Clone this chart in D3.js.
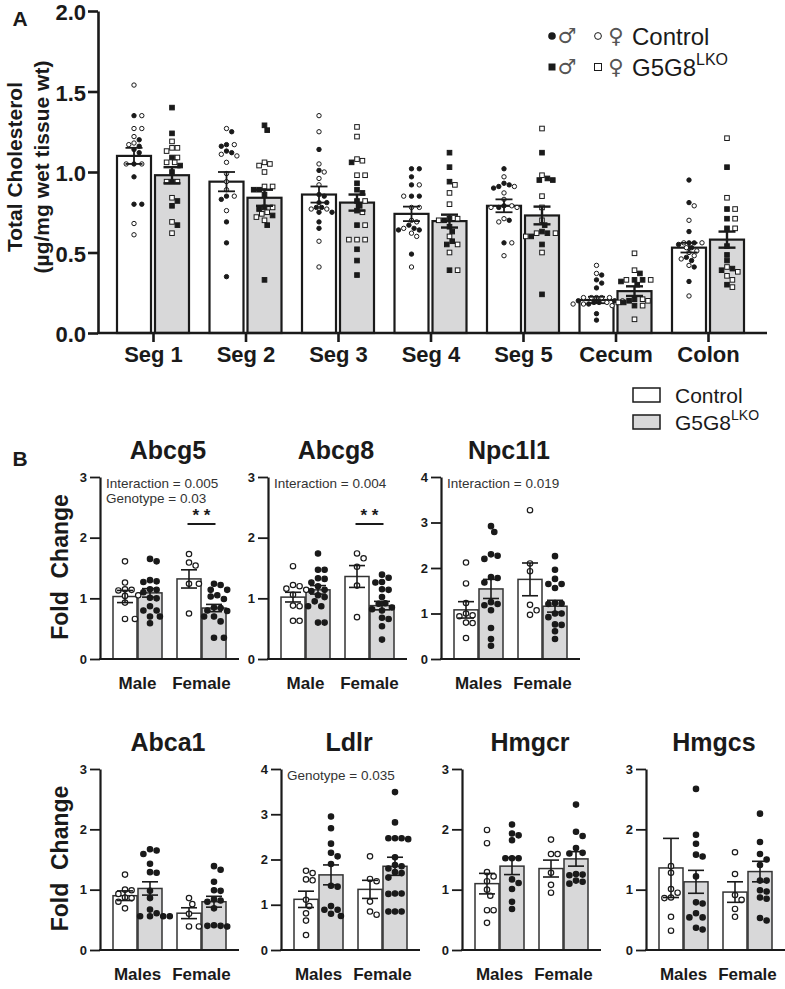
<!DOCTYPE html>
<html>
<head>
<meta charset="utf-8">
<script src="https://cdn.jsdelivr.net/npm/d3@7"></script>
<style>
  body { margin: 0; background: #fff; }
  svg { font-family: "Liberation Sans", Arial, sans-serif; }
</style>
</head>
<body>
<script>
// ---- panel A data ----
const segments = ["Seg 1", "Seg 2", "Seg 3", "Seg 4", "Seg 5", "Cecum", "Colon"]
const ctrlMean = [1.10, 0.94, 0.86, 0.74, 0.79, 0.205, 0.53]
const ctrlSem  = [0.05, 0.06, 0.05, 0.045, 0.04, 0.02, 0.03]
const lkoMean  = [0.98, 0.84, 0.81, 0.695, 0.73, 0.26, 0.58]
const lkoSem   = [0.05, 0.05, 0.05, 0.04, 0.055, 0.03, 0.05]

// filled circles
const ctrlMale = [
  [1.35, 1.20, 1.16, 1.14, 1.12, 1.05, 0.97, 0.80, 0.80],
  [1.25, 1.17, 1.16, 1.13, 1.12, 0.85, 0.83, 0.69, 0.56, 0.35],
  [1.14, 1.01, 0.86, 0.85, 0.81, 0.81, 0.78, 0.78, 0.75, 0.75, 0.69, 0.65],
  [1.02, 1.02, 0.97, 0.92, 0.85, 0.85, 0.67, 0.65, 0.64, 0.64, 0.49],
  [1.02, 0.93, 0.92, 0.91, 0.90, 0.79, 0.78, 0.70, 0.56],
  [0.36, 0.33, 0.31, 0.28, 0.20, 0.20, 0.19, 0.19, 0.18, 0.12, 0.08],
  [0.95, 0.81, 0.63, 0.56, 0.56, 0.55, 0.53, 0.47, 0.45, 0.41, 0.32]
]
// open circles
const ctrlFemale = [
  [1.54, 1.35, 1.27, 1.27, 1.22, 1.18, 1.17, 1.05, 1.05, 0.68, 0.61],
  [1.27, 1.17, 1.11, 1.10, 1.06, 0.99, 0.94, 0.89, 0.85, 0.76],
  [1.35, 1.25, 1.05, 1.00, 0.96, 0.92, 0.77, 0.77, 0.57, 0.41],
  [0.92, 0.85, 0.78, 0.78, 0.70, 0.69, 0.65, 0.62, 0.60, 0.41],
  [0.97, 0.91, 0.87, 0.83, 0.79, 0.78, 0.78, 0.71, 0.69, 0.56, 0.48],
  [0.42, 0.37, 0.22, 0.22, 0.22, 0.22, 0.22, 0.20, 0.19, 0.18, 0.17, 0.18],
  [0.79, 0.70, 0.56, 0.56, 0.53, 0.51, 0.50, 0.48, 0.46, 0.42, 0.23]
]
// filled squares
const lkoMale = [
  [1.40, 1.24, 1.09, 1.04, 1.00, 0.94, 0.82, 0.79, 0.67],
  [1.29, 1.26, 0.89, 0.89, 0.86, 0.78, 0.77, 0.73, 0.67, 0.33],
  [1.06, 0.93, 0.89, 0.87, 0.82, 0.79, 0.76, 0.67, 0.52, 0.45, 0.36],
  [1.12, 1.03, 0.94, 0.71, 0.70, 0.66, 0.63, 0.57, 0.55, 0.39],
  [1.12, 0.96, 0.95, 0.95, 0.67, 0.63, 0.62, 0.60, 0.55, 0.24],
  [0.37, 0.33, 0.33, 0.32, 0.30, 0.21, 0.20, 0.19, 0.17],
  [1.03, 0.77, 0.71, 0.65, 0.54, 0.485, 0.45, 0.40, 0.39, 0.30]
]
// open squares
const lkoFemale = [
  [1.19, 1.15, 1.15, 1.13, 1.09, 1.06, 1.06, 0.94, 0.94, 0.84, 0.69, 0.62],
  [1.06, 1.05, 1.04, 1.00, 0.91, 0.91, 0.78, 0.75, 0.74, 0.72, 0.70],
  [1.28, 1.22, 1.08, 1.07, 0.98, 0.98, 0.82, 0.75, 0.67, 0.58, 0.58, 0.58],
  [0.92, 0.87, 0.80, 0.71, 0.70, 0.60, 0.55, 0.50, 0.39],
  [1.27, 0.98, 0.85, 0.78, 0.70, 0.62, 0.62, 0.60, 0.50],
  [0.495, 0.39, 0.33, 0.33, 0.21, 0.20, 0.19, 0.17, 0.085],
  [1.21, 0.84, 0.77, 0.71, 0.65, 0.41, 0.38, 0.355, 0.33, 0.285]
]
const yTicksA = [0, 0.5, 1.0, 1.5, 2.0]

// ---- panel B data ----
const genes = ["Abcg5", "Abcg8", "Npc1l1", "Abca1", "Ldlr", "Hmgcr", "Hmgcs"]
const geneYMax = [3, 3, 4, 3, 4, 3, 3]
const sexLabels = [
  ["Male", "Female"], ["Male", "Female"], ["Males", "Female"],
  ["Males", "Female"], ["Males", "Female"], ["Males", "Female"], ["Males", "Female"]
]
const geneNotes = [
  ["Interaction = 0.005", "Genotype = 0.03"], ["Interaction = 0.004"], ["Interaction = 0.019"],
  [], ["Genotype = 0.035"], [], []
]
const geneSig = ["**", "**", "", "", "", "", ""]
// order: control male, LKO male, control female, LKO female
const geneMeans = [
  [1.03, 1.09, 1.32, 0.84],
  [1.02, 1.14, 1.36, 0.88],
  [1.08, 1.54, 1.75, 1.16],
  [0.90, 1.02, 0.61, 0.80],
  [1.12, 1.66, 1.34, 1.85],
  [1.10, 1.39, 1.35, 1.51],
  [1.36, 1.13, 0.96, 1.30]
]
const geneSems = [
  [0.10, 0.07, 0.15, 0.06],
  [0.08, 0.07, 0.18, 0.07],
  [0.18, 0.21, 0.36, 0.13],
  [0.08, 0.11, 0.09, 0.09],
  [0.18, 0.22, 0.20, 0.20],
  [0.17, 0.14, 0.14, 0.12],
  [0.49, 0.19, 0.17, 0.17]
]
const geneDots = [
  [[1.61, 1.26, 1.15, 1.14, 1.13, 1.05, 1.04, 0.93, 0.66, 0.66],
   [1.65, 1.61, 1.30, 1.28, 1.27, 1.15, 1.14, 1.10, 1.01, 1.00, 0.87, 0.80, 0.80, 0.70, 0.70, 0.59],
   [1.73, 1.59, 1.54, 1.24, 1.24, 0.75],
   [1.24, 1.22, 1.14, 1.14, 1.05, 1.03, 0.99, 0.85, 0.84, 0.80, 0.79, 0.70, 0.70, 0.62, 0.35, 0.35]],
  [[1.53, 1.22, 1.20, 1.16, 1.14, 1.06, 0.88, 0.87, 0.63, 0.63],
   [1.74, 1.47, 1.47, 1.33, 1.32, 1.26, 1.20, 1.14, 1.12, 1.05, 1.02, 0.95, 0.87, 0.87, 0.60, 0.60],
   [1.74, 1.66, 1.52, 1.21, 0.69],
   [1.39, 1.34, 1.27, 1.26, 1.15, 1.14, 1.02, 0.92, 0.91, 0.85, 0.82, 0.80, 0.68, 0.66, 0.54, 0.32]],
  [[2.12, 1.66, 1.23, 1.00, 0.96, 0.94, 0.80, 0.79, 0.46],
   [2.92, 2.79, 2.30, 2.27, 2.20, 1.80, 1.78, 1.68, 1.25, 1.21, 1.18, 1.07, 0.68, 0.44, 0.29],
   [3.27, 2.10, 1.93, 1.19, 1.07, 0.97],
   [2.26, 1.96, 1.76, 1.65, 1.65, 1.56, 1.23, 1.22, 1.21, 1.00, 1.00, 0.92, 0.76, 0.75, 0.61, 0.44]],
  [[1.25, 1.00, 0.99, 0.93, 0.87, 0.86, 0.80, 0.69],
   [1.67, 1.65, 1.59, 1.43, 1.29, 1.28, 0.98, 0.86, 0.67, 0.61, 0.56, 0.56, 0.56, 0.56],
   [0.86, 0.76, 0.60, 0.39, 0.39],
   [1.39, 1.33, 1.13, 0.99, 0.98, 0.84, 0.82, 0.80, 0.69, 0.41, 0.40, 0.40, 0.39]],
  [[1.75, 1.70, 1.56, 1.54, 1.11, 0.97, 0.81, 0.65, 0.33],
   [2.95, 2.69, 2.35, 2.15, 2.07, 1.90, 1.42, 1.40, 0.97, 0.89, 0.89, 0.80, 0.75],
   [2.07, 1.57, 1.52, 1.07, 0.85, 0.78],
   [3.49, 2.82, 2.47, 2.47, 2.47, 2.45, 2.05, 1.88, 1.85, 1.80, 1.72, 1.70, 1.60, 1.25, 1.25, 1.24, 0.85, 0.85, 0.85]],
  [[1.99, 1.77, 1.29, 1.22, 1.14, 1.00, 0.90, 0.66, 0.66, 0.45],
   [2.08, 1.93, 1.90, 1.82, 1.52, 1.52, 1.52, 1.17, 1.11, 1.01, 0.80, 0.68],
   [1.83, 1.59, 1.59, 1.28, 1.08, 0.95],
   [2.41, 1.96, 1.89, 1.69, 1.61, 1.60, 1.26, 1.25, 1.24, 1.15, 1.13, 1.10]],
  [[1.39, 1.28, 1.01, 0.95, 0.87, 0.86, 0.55, 0.32],
   [2.67, 1.91, 1.76, 1.58, 1.55, 1.22, 0.79, 0.77, 0.61, 0.54, 0.54, 0.37, 0.34],
   [1.62, 1.26, 0.91, 0.83, 0.68, 0.55],
   [2.26, 1.79, 1.59, 1.50, 1.41, 1.15, 1.15, 0.99, 0.97, 0.87, 0.85, 0.53, 0.49]]
]

const INK = '#1a1a1a'
const GRAY = '#d8d8d9'
const FONT = '"Liberation Sans", Arial, sans-serif'

const svg = d3.select('body').append('svg')
  .attr('width', 785)
  .attr('height', 989)

// simple beeswarm: each point goes as near the centre as it can without overlap
function swarm(items, yScale, cx, d) {
  const order = d3.range(items.length).sort((a, b) => d3.descending(items[a].v, items[b].v))
  const placed = []
  order.forEach(i => {
    const y = yScale(items[i].v)
    let x = cx
    for (let k = 0; k < 300; k++) {
      const cand = cx + Math.ceil(k / 2) * (k % 2 ? 1 : -1) * d * 0.5
      if (placed.every(p => (p.x - cand) ** 2 + (p.y - y) ** 2 >= d * d)) { x = cand; break }
    }
    items[i].x = x
    items[i].y = y
    placed.push(items[i])
  })
  return items
}

function errBar(g, cx, yScale, mean, sem, cap, w) {
  const y1 = yScale(mean + sem), y0 = yScale(Math.max(0, mean - sem))
  g.append('line').attr('x1', cx).attr('x2', cx).attr('y1', y1).attr('y2', y0)
    .attr('stroke', INK).attr('stroke-width', w)
  ;[y1, y0].forEach(y => g.append('line')
    .attr('x1', cx - cap / 2).attr('x2', cx + cap / 2).attr('y1', y).attr('y2', y)
    .attr('stroke', INK).attr('stroke-width', w))
}

// ================= PANEL A =================
const yA = d3.scaleLinear().domain([0, 2]).range([333, 11])
const xA = d3.scalePoint().domain(segments).range([153, 708])

svg.append('text').attr('x', 20).attr('y', 18).attr('text-anchor', 'middle')
  .attr('dominant-baseline', 'central').attr('font-weight', 'bold').attr('font-size', 21)
  .attr('fill', INK).text('A')

// y title, two lines
svg.append('text')
  .attr('transform', 'translate(14,167) rotate(-90)')
  .attr('text-anchor', 'middle').attr('dominant-baseline', 'central')
  .attr('font-weight', 'bold').attr('font-size', 21).attr('fill', INK)
  .text('Total Cholesterol')
svg.append('text')
  .attr('transform', 'translate(41,167) rotate(-90)')
  .attr('text-anchor', 'middle').attr('dominant-baseline', 'central')
  .attr('font-weight', 'bold').attr('font-size', 21).attr('fill', INK)
  .text('(\u00b5g/mg wet tissue wt)')

const gA = svg.append('g')

// bars
segments.forEach((s, i) => {
  const c = xA(s)
  gA.append('rect').attr('x', c - 36).attr('width', 34)
    .attr('y', yA(ctrlMean[i])).attr('height', yA(0) - yA(ctrlMean[i]))
    .attr('fill', '#fff').attr('stroke', INK).attr('stroke-width', 2.2)
  gA.append('rect').attr('x', c + 2).attr('width', 34)
    .attr('y', yA(lkoMean[i])).attr('height', yA(0) - yA(lkoMean[i]))
    .attr('fill', GRAY).attr('stroke', INK).attr('stroke-width', 2.2)
})

// dots
segments.forEach((s, i) => {
  const c = xA(s)
  const ctrl = swarm(
    ctrlMale[i].map(v => ({ v, filled: true }))
      .concat(ctrlFemale[i].map(v => ({ v, filled: false }))), yA, c - 19, 5.2)
  gA.selectAll(null).data(ctrl).join('circle')
    .attr('cx', d => d.x).attr('cy', d => d.y).attr('r', 2.2)
    .attr('fill', d => d.filled ? INK : '#fff').attr('stroke', INK).attr('stroke-width', 1)
  const lko = swarm(
    lkoMale[i].map(v => ({ v, filled: true }))
      .concat(lkoFemale[i].map(v => ({ v, filled: false }))), yA, c + 19, 5.4)
  gA.selectAll(null).data(lko).join('rect')
    .attr('x', d => d.x - 2.3).attr('y', d => d.y - 2.3).attr('width', 4.6).attr('height', 4.6)
    .attr('fill', d => d.filled ? INK : '#fff').attr('stroke', INK).attr('stroke-width', 1)
})

// error bars
segments.forEach((s, i) => {
  const c = xA(s)
  errBar(gA, c - 19, yA, ctrlMean[i], ctrlSem[i], 17, 1.8)
  errBar(gA, c + 19, yA, lkoMean[i], lkoSem[i], 17, 2.4)
})

// axes
const axA = svg.append('g').attr('transform', 'translate(98,0)')
  .call(d3.axisLeft(yA).tickValues(yTicksA).tickFormat(d3.format('.1f'))
    .tickSize(10).tickSizeOuter(0).tickPadding(2))
axA.select('.domain').attr('stroke', INK).attr('stroke-width', 2.6)
axA.selectAll('.tick line').attr('stroke', INK).attr('stroke-width', 2.6)
axA.selectAll('.tick text').attr('font-size', 22).attr('font-weight', 'bold')
  .attr('dy', '0.4em').attr('fill', INK).attr('font-family', FONT)

const axAx = svg.append('g').attr('transform', 'translate(0,333)')
  .call(d3.axisBottom(xA).tickSize(9).tickSizeOuter(0).tickPadding(4))
axAx.select('.domain').remove()
axAx.selectAll('.tick line').attr('stroke', INK).attr('stroke-width', 2.6)
axAx.selectAll('.tick text').attr('font-size', 22).attr('font-weight', 'bold')
  .attr('fill', INK).attr('font-family', FONT)
svg.append('line').attr('x1', 97).attr('x2', 767).attr('y1', 333).attr('y2', 333)
  .attr('stroke', INK).attr('stroke-width', 2.6)

// legend A (symbol by sex)
const legA = svg.append('g')
legA.append('circle').attr('cx', 552).attr('cy', 36).attr('r', 3.8).attr('fill', INK)
legA.append('circle').attr('cx', 598).attr('cy', 36).attr('r', 3.4).attr('fill', '#fff')
  .attr('stroke', INK).attr('stroke-width', 1)
legA.append('rect').attr('x', 548.5).attr('y', 63.5).attr('width', 7).attr('height', 7).attr('fill', INK)
legA.append('rect').attr('x', 594.5).attr('y', 63.5).attr('width', 7).attr('height', 7)
  .attr('fill', '#fff').attr('stroke', INK).attr('stroke-width', 1)
;[[567, 36, '\u2642'], [616, 36, '\u2640'], [567, 67, '\u2642'], [616, 67, '\u2640']].forEach(([x, y, t]) =>
  legA.append('text').attr('x', x).attr('y', y).attr('text-anchor', 'middle')
    .attr('dominant-baseline', 'central').attr('font-size', 21)
    .attr('font-family', '"DejaVu Sans", sans-serif').attr('fill', '#555').text(t))
legA.append('text').attr('x', 632).attr('y', 36).attr('dominant-baseline', 'central')
  .attr('font-size', 24).attr('fill', INK).text('Control')
const lkoA = legA.append('text').attr('x', 632).attr('y', 67).attr('dominant-baseline', 'central')
  .attr('font-size', 24).attr('fill', INK)
lkoA.append('tspan').text('G5G8')
lkoA.append('tspan').attr('font-size', 16).attr('dy', -8).text('LKO')

// legend (bar fill)
const legB = svg.append('g')
legB.append('rect').attr('x', 633).attr('y', 388).attr('width', 27).attr('height', 14)
  .attr('fill', '#fff').attr('stroke', INK).attr('stroke-width', 1.5)
legB.append('rect').attr('x', 633).attr('y', 415).attr('width', 27).attr('height', 14)
  .attr('fill', GRAY).attr('stroke', INK).attr('stroke-width', 1.5)
legB.append('text').attr('x', 675).attr('y', 395).attr('dominant-baseline', 'central')
  .attr('font-size', 21).attr('fill', INK).text('Control')
const lkoB = legB.append('text').attr('x', 675).attr('y', 422).attr('dominant-baseline', 'central')
  .attr('font-size', 21).attr('fill', INK)
lkoB.append('tspan').text('G5G8')
lkoB.append('tspan').attr('font-size', 14).attr('dy', -7).text('LKO')

// ================= PANEL B =================
svg.append('text').attr('x', 20).attr('y', 458).attr('text-anchor', 'middle')
  .attr('dominant-baseline', 'central').attr('font-weight', 'bold').attr('font-size', 21)
  .attr('fill', INK).text('B')

const rows = [{ top: 477, zero: 659 }, { top: 769, zero: 950 }]
const geneX0 = [100, 268, 441, 100, 281, 462, 646]
const geneRow = [0, 0, 0, 1, 1, 1, 1]

rows.forEach(r => {
  svg.append('text')
    .attr('transform', `translate(60,${(r.top + r.zero) / 2 - 1}) rotate(-90)`)
    .attr('text-anchor', 'middle').attr('dominant-baseline', 'central')
    .attr('font-weight', 'bold').attr('font-size', 23).attr('fill', INK)
    .style('white-space', 'pre')
    .text('Fold  Change')
})

genes.forEach((gene, gi) => {
  const r = rows[geneRow[gi]]
  const x0 = geneX0[gi]
  const y = d3.scaleLinear().domain([0, geneYMax[gi]]).range([r.zero, r.top])
  const gc = [x0 + 37.5, x0 + 101.5]
  const barC = [gc[0] - 12.5, gc[0] + 12.5, gc[1] - 12.5, gc[1] + 12.5]
  const g = svg.append('g')

  // title
  g.append('text').attr('x', x0 + 68).attr('y', r.top - 27)
    .attr('text-anchor', 'middle').attr('dominant-baseline', 'central')
    .attr('font-weight', 'bold').attr('font-size', 25).attr('fill', INK).text(gene)

  // bars
  geneMeans[gi].forEach((m, k) => {
    g.append('rect').attr('x', barC[k] - 12).attr('width', 24)
      .attr('y', y(m)).attr('height', r.zero - y(m))
      .attr('fill', k % 2 ? GRAY : '#fff').attr('stroke', '#333').attr('stroke-width', 1.5)
  })

  // dots
  geneDots[gi].forEach((vals, k) => {
    const pts = swarm(vals.map(v => ({ v })), y, barC[k], 6.6)
    g.selectAll(null).data(pts).join('circle')
      .attr('cx', d => d.x).attr('cy', d => d.y).attr('r', 2.7)
      .attr('fill', k % 2 ? INK : '#fff').attr('stroke', INK).attr('stroke-width', 1.2)
  })

  // error bars
  geneMeans[gi].forEach((m, k) => errBar(g, barC[k], y, m, geneSems[gi][k], 16, 1.6))

  // axes
  const ay = g.append('g').attr('transform', `translate(${x0},0)`)
    .call(d3.axisLeft(y).tickValues(d3.range(0, geneYMax[gi] + 1)).tickFormat(d3.format('d'))
      .tickSize(10).tickSizeOuter(0).tickPadding(3))
  ay.select('.domain').attr('stroke', INK).attr('stroke-width', 2.2)
  ay.selectAll('.tick line').attr('stroke', INK).attr('stroke-width', 1.8)
  ay.selectAll('.tick text').attr('font-size', 13).attr('font-weight', 'bold')
    .attr('fill', INK).attr('font-family', FONT)
  g.append('line').attr('x1', x0 - 1).attr('x2', x0 + 139).attr('y1', r.zero).attr('y2', r.zero)
    .attr('stroke', INK).attr('stroke-width', 2.2)

  // group labels
  sexLabels[gi].forEach((t, k) => g.append('text').attr('x', gc[k]).attr('y', r.zero + 24)
    .attr('text-anchor', 'middle').attr('dominant-baseline', 'central')
    .attr('font-weight', 'bold').attr('font-size', 17).attr('fill', INK).text(t))

  // stats notes
  geneNotes[gi].forEach((t, k) => g.append('text').attr('x', x0 + 6).attr('y', r.top + 6 + k * 15)
    .attr('dominant-baseline', 'central').attr('font-size', 13.5).attr('fill', '#333').text(t))

  if (geneSig[gi]) {
    g.append('text').attr('x', gc[1]).attr('y', r.top + 44)
      .attr('text-anchor', 'middle').attr('font-size', 17).attr('font-weight', 'bold')
      .attr('fill', INK).style('white-space', 'pre').text('* *')
    g.append('line').attr('x1', gc[1] - 14).attr('x2', gc[1] + 14)
      .attr('y1', r.top + 47).attr('y2', r.top + 47).attr('stroke', INK).attr('stroke-width', 2)
  }
})
</script>
</body>
</html>
